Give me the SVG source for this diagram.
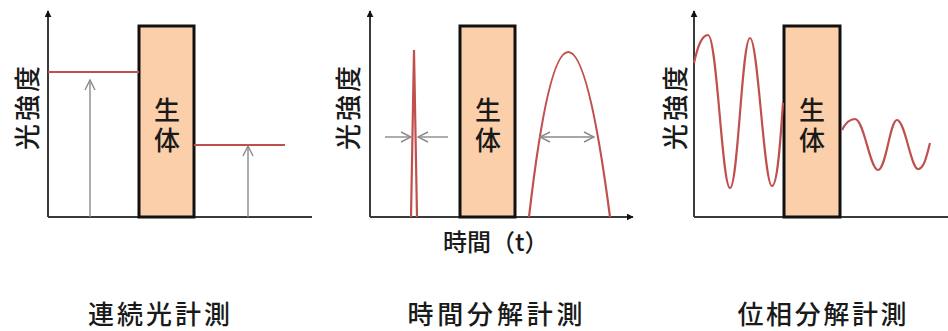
<svg xmlns="http://www.w3.org/2000/svg" width="948" height="331" viewBox="0 0 948 331">
<style>
text{font-family:"Noto Sans CJK JP","Noto Sans",sans-serif;fill:#1a1a1a;font-weight:500}
.ax{stroke:#3a3a3a;stroke-width:2;fill:none}
.box{fill:#FBCFA9;stroke:#111;stroke-width:3}
.sig{stroke:#C0504D;stroke-width:2.2;fill:none}
.ptr{stroke:#8a8a8a;stroke-width:1.4;fill:none}
.lbl{font-size:26px;text-anchor:middle;dominant-baseline:central}
.vt{font-size:26px;text-anchor:middle;writing-mode:vertical-rl;letter-spacing:4px}
.ttl{font-size:26px;text-anchor:middle}
</style>
<defs>
<marker id="tri" viewBox="0 0 10 10" refX="9" refY="5" markerWidth="7" markerHeight="7" markerUnits="userSpaceOnUse" orient="auto"><path d="M0,0 L10,5 L0,10 z" fill="#111"/></marker>
<marker id="chev" viewBox="0 0 12 12" refX="11" refY="6" markerWidth="12" markerHeight="12" markerUnits="userSpaceOnUse" orient="auto-start-reverse"><path d="M1,1 L11,6 L1,11" fill="none" stroke="#8a8a8a" stroke-width="1.4"/></marker>
</defs>

<g id="panel1">
<g id="axes1"><line class="ax" x1="48" y1="217" x2="48" y2="11" marker-end="url(#tri)"/><line class="ax" x1="48" y1="217" x2="312" y2="217"/></g>
<text class="lbl" transform="translate(25,108) rotate(-90)" textLength="84">光強度</text>
<g id="body1"><rect class="box" x="139" y="26" width="55" height="191"/><text class="vt" x="167" y="127">生体</text></g>
<g id="signal1"><line class="sig" x1="48" y1="72" x2="139" y2="72"/><line class="sig" x1="194" y1="145" x2="285" y2="145"/></g>
<g id="connectors1"><line class="ptr" x1="90" y1="217" x2="90" y2="80" marker-end="url(#chev)"/><line class="ptr" x1="248" y1="217" x2="248" y2="146" marker-end="url(#chev)"/></g>
<text class="ttl" x="159" y="324" textLength="142">連続光計測</text>
</g>

<g id="panel2">
<g id="axes2"><line class="ax" x1="370" y1="217" x2="370" y2="11" marker-end="url(#tri)"/><line class="ax" x1="370" y1="217" x2="633" y2="217" marker-end="url(#tri)"/></g>
<text class="lbl" transform="translate(346,108) rotate(-90)" textLength="84">光強度</text>
<g id="body2"><rect class="box" x="460" y="26" width="55" height="191"/><text class="vt" x="488" y="127">生体</text></g>
<g id="signal2"><path class="sig" d="M411,217 L414,50 L417,217"/><path class="sig" d="M529,217 Q567,-113 610,217"/></g>
<g id="connectors2"><line class="ptr" x1="385" y1="137" x2="411" y2="137" marker-end="url(#chev)"/><line class="ptr" x1="448" y1="137" x2="418" y2="137" marker-end="url(#chev)"/><line class="ptr" x1="540" y1="137" x2="594" y2="137" marker-start="url(#chev)" marker-end="url(#chev)"/></g>
<text x="443" y="251" font-size="24">時間（t）</text>
<text class="ttl" x="495" y="324" textLength="175">時間分解計測</text>
</g>

<g id="panel3">
<g id="axes3"><line class="ax" x1="694" y1="217" x2="694" y2="11" marker-end="url(#tri)"/><line class="ax" x1="694" y1="217" x2="948" y2="217"/></g>
<text class="lbl" transform="translate(673,108) rotate(-90)" textLength="84">光強度</text>
<g id="body3"><rect class="box" x="784" y="26" width="56" height="191"/><text class="vt" x="812" y="127">生体</text></g>
<g id="signal3"><path class="sig" d="M694,63 C698,45 702,35 708,35 C717,35 722,188 730,188 C738,188 742,38 750,38 C758,38 764,186 772,186 C778,186 781,130 783,103"/><path class="sig" d="M842,130 C846,122 850,119 855,119 C864,119 870,170 878,170 C886,170 890,120 897,120 C905,120 911,169 918,169 C924,169 927,155 930,143"/></g>
<text class="ttl" x="822" y="324" textLength="169">位相分解計測</text>
</g>
</svg>
